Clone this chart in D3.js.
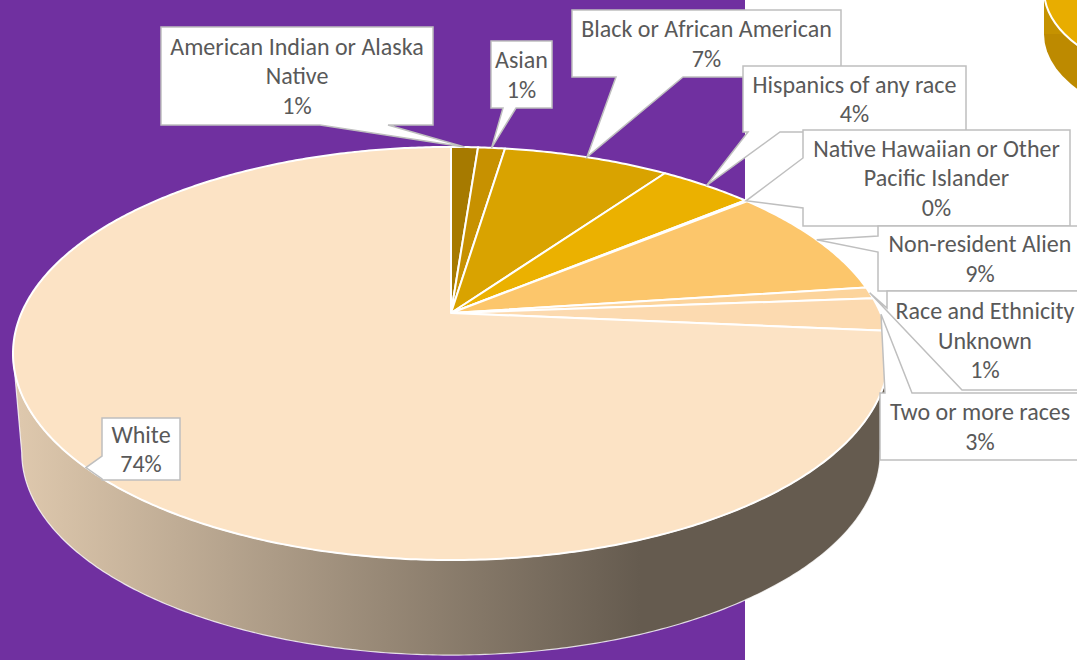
<!DOCTYPE html>
<html>
<head>
<meta charset="utf-8">
<script src="https://cdn.jsdelivr.net/npm/d3@7"></script>
<style>
  body { margin: 0; overflow: hidden; background: #fff; }
  text { font-family: Carlito, Calibri, Lato, sans-serif; }
</style>
</head>
<body>
<svg id="chart" width="1077" height="660"></svg>
<script>
// data (share of students, %)
const categories = ["American Indian or Alaska Native", "Asian", "Black or African American",
  "Hispanics of any race", "Native Hawaiian or Other Pacific Islander", "Non-resident Alien",
  "Race and Ethnicity Unknown", "Two or more races", "White"];
const values = [1.2, 1.2, 7.4, 4.2, 0.1, 8.8, 0.9, 2.6, 73.6];
const colors = ["#a67a00", "#c79100", "#d9a300", "#ebb100", "#f2bf3a", "#fcc66b", "#fcd49c", "#fcdab0", "#fce3c5"];
// words on the first label line (0 = single line)
const firstLineWords = [4, 0, 0, 0, 4, 0, 3, 0, 0];

// callout boxes [x, y, w, h] and the two points where the tail leaves the box
const boxes = [[161, 27, 272, 98], [491, 41, 61, 67], [572, 10, 269, 67], [743, 66, 223, 66],
  [803, 130, 267, 96], [878, 226, 204, 65], [887, 291, 196, 99], [880, 393, 200, 67], [102, 418, 78, 62]];
const tailBase = [[[388, 125], [320, 125]], [[516, 108], [503, 108]], [[683, 77], [616, 77]],
  [[780, 132], [748, 132]], [[803, 208], [803, 158]], [[878, 252], [878, 236]],
  [[962, 390], [887, 308]], [[885, 393], [912, 393]], [[102, 456], [102, 479]]];

const W = 1077, H = 660;
const svg = d3.select("#chart");

svg.append("rect").attr("width", W).attr("height", H).attr("fill", "#fff");
svg.append("rect").attr("width", 745).attr("height", H).attr("fill", "#7030a0");

// neighbouring chart in the corner
const deco = svg.append("g");
deco.append("ellipse").attr("cx", 1204).attr("cy", 34).attr("rx", 160).attr("ry", 90).attr("fill", "#bd8a00");
deco.append("rect").attr("x", 1044).attr("y", -10).attr("width", 320).attr("height", 44).attr("fill", "#c59200");
deco.append("ellipse").attr("cx", 1204).attr("cy", -10).attr("rx", 160).attr("ry", 90)
  .attr("fill", "#e8ad00").attr("stroke", "#fff").attr("stroke-width", 2);

// 3d pie: perspective view of a tilted disc
const cx = 451, cy = 313, a = 429.5, b = 198.6, k = 0.196, depth = 100, shrink = 0.98;
function proj(angle, h) {
  const u = Math.sin(angle), v = -Math.cos(angle);
  const w = 1 - k * v;
  const s = h ? shrink : 1;
  return [cx + s * a * u / w, cy + h * depth + s * b * v / w];
}
function rim(a0, a1, h) {
  const n = Math.max(2, Math.ceil(Math.abs(a1 - a0) / 0.01));
  return d3.range(n + 1).map(i => proj(a0 + (a1 - a0) * i / n, h));
}

const pie = d3.pie().sort(null).value(d => d)(values);
const total = d3.sum(values);
const line = d3.line();
const pct = d3.format(".0%");

// side wall, only the front half shows
const defs = svg.append("defs");
const frontA = Math.acos(-k), frontB = 2 * Math.PI - frontA;
const shade = (c, f) => { const r = d3.rgb(c); return d3.rgb(r.r * f, r.g * f, r.b * f); };

pie.forEach((d, i) => {
  const s = Math.max(d.startAngle, frontA), e = Math.min(d.endAngle, frontB);
  if (e <= s) return;
  const g = defs.append("linearGradient").attr("id", "side" + i)
    .attr("gradientUnits", "userSpaceOnUse").attr("x1", 20).attr("x2", 640).attr("y1", 0).attr("y2", 0);
  g.append("stop").attr("offset", 0).attr("stop-color", shade(colors[i], 0.88));
  g.append("stop").attr("offset", 1).attr("stop-color", shade(colors[i], 0.40));
  const pts = rim(s, e, 0).concat(rim(e, s, 1));
  svg.append("path").attr("d", line(pts) + "Z").attr("fill", `url(#side${i})`)
    .attr("stroke", "#fff").attr("stroke-width", 1.2).attr("stroke-opacity", 0.8);
});

// top face
svg.append("g").selectAll("path").data(pie).join("path")
  .attr("d", d => line([[cx, cy]].concat(rim(d.startAngle, d.endAngle, 0))) + "Z")
  .attr("fill", (d, i) => colors[i])
  .attr("stroke", "#fff").attr("stroke-width", 2).attr("stroke-linejoin", "round");

// callouts
function perimT(r, p) {
  const [x, y, w, h] = r;
  if (Math.abs(p[1] - y) < 0.5) return p[0] - x;
  if (Math.abs(p[0] - (x + w)) < 0.5) return w + (p[1] - y);
  if (Math.abs(p[1] - (y + h)) < 0.5) return w + h + (x + w - p[0]);
  return 2 * w + h + (y + h - p[1]);
}
function callout(r, base, tip) {
  const [x, y, w, h] = r;
  let [p1, p2] = base;
  let t1 = perimT(r, p1), t2 = perimT(r, p2);
  if (t1 > t2) { [p1, p2] = [p2, p1]; [t1, t2] = [t2, t1]; }
  const corners = [[0, [x, y]], [w, [x + w, y]], [w + h, [x + w, y + h]], [2 * w + h, [x, y + h]]];
  const pts = [p2]
    .concat(corners.filter(c => c[0] > t2).map(c => c[1]))
    .concat(corners.filter(c => c[0] < t1).map(c => c[1]))
    .concat([p1, tip]);
  return line(pts) + "Z";
}

const labels = svg.append("g");
pie.forEach((d, i) => {
  const mid = (d.startAngle + d.endAngle) / 2;
  const tip = proj(mid, 0);
  const r = boxes[i];
  labels.append("path").attr("d", callout(r, tailBase[i], tip))
    .attr("fill", "#fff").attr("stroke", "#bfbfbf").attr("stroke-width", 1.5).attr("stroke-linejoin", "miter");
  const words = categories[i].split(" ");
  const n = firstLineWords[i];
  const lines = n ? [words.slice(0, n).join(" "), words.slice(n).join(" ")] : [categories[i]];
  lines.push(pct(values[i] / total));
  const lh = 29.5;
  const y0 = r[1] + r[3] / 2 - (lines.length - 1) * lh / 2;
  labels.append("text").attr("text-anchor", "middle").attr("font-size", 24).attr("fill", "#595959")
    .selectAll("tspan").data(lines).join("tspan")
    .attr("x", r[0] + r[2] / 2).attr("y", (t, j) => y0 + j * lh).attr("dy", "0.35em").text(t => t);
});
</script>
</body>
</html>
